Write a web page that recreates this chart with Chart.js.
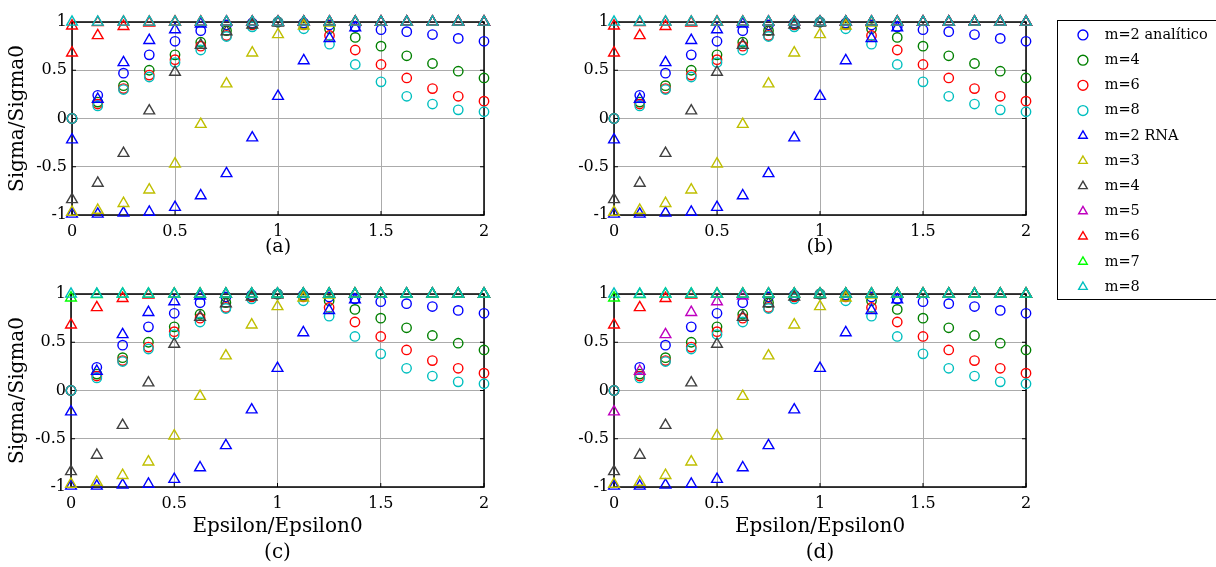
<!DOCTYPE html>
<html>
<head>
<meta charset="utf-8">
<script src="https://cdn.jsdelivr.net/npm/chart.js@4.4.1/dist/chart.umd.min.js"></script>
<style>
  html, body { margin: 0; padding: 0; background: #fff; overflow: hidden; width: 1216px; height: 567px; }
  canvas { position: absolute; }
  #legendBox { position: absolute; left: 1057px; top: 20px; width: 200px; height: 278px; border: 1px solid #000; }
</style>
</head>
<body>
<div id="legendBox"></div>
<canvas id="pa" width="500" height="262" style="left:0px;top:0px"></canvas>
<canvas id="pb" width="502" height="262" style="left:540px;top:0px"></canvas>
<canvas id="pc" width="500" height="294" style="left:0px;top:272px"></canvas>
<canvas id="pd" width="502" height="294" style="left:540px;top:272px"></canvas>
<canvas id="legend" width="320" height="290" style="left:1065px;top:17px"></canvas>
<script>
Chart.defaults.font.family = "'DejaVu Serif', serif";
Chart.defaults.color = "#000";

// Epsilon/Epsilon0 sample points
const eps = [0, 0.125, 0.25, 0.375, 0.5, 0.625, 0.75, 0.875, 1, 1.125, 1.25, 1.375, 1.5, 1.625, 1.75, 1.875, 2];

// analytic curves (circles)
const anaM2 = [0, 0.24, 0.47, 0.66, 0.80, 0.91, 0.97, 0.99, 1.0, 0.99, 0.97, 0.95, 0.92, 0.90, 0.87, 0.83, 0.80];
const anaM4 = [0, 0.17, 0.34, 0.50, 0.66, 0.79, 0.91, 0.98, 1.0, 0.98, 0.93, 0.84, 0.75, 0.65, 0.57, 0.49, 0.42];
const anaM6 = [0, 0.15, 0.31, 0.45, 0.61, 0.75, 0.86, 0.97, 1.0, 0.97, 0.86, 0.71, 0.56, 0.42, 0.31, 0.23, 0.18];
const anaM8 = [0, 0.13, 0.30, 0.43, 0.58, 0.71, 0.85, 0.95, 1.0, 0.93, 0.77, 0.56, 0.38, 0.23, 0.15, 0.09, 0.07];

// RNA results (triangles)
const rnaM2 = [-0.99, -0.99, -0.98, -0.97, -0.92, -0.80, -0.57, -0.20, 0.23, 0.60, 0.83, 0.94, 1, 1, 1, 1, 1];
const rnaM3 = [-0.97, -0.95, -0.88, -0.74, -0.47, -0.06, 0.36, 0.68, 0.87, 0.96, 0.99, 1, 1, 1, 1, 1, 1];
const rnaM4 = [-0.84, -0.67, -0.36, 0.08, 0.48, 0.76, 0.90, 0.97, 0.99, 1, 1, 1, 1, 1, 1, 1, 1];
const rnaM5 = [-0.22, 0.20, 0.58, 0.81, 0.92, 0.98, 1, 1, 1, 1, 1, 1, 1, 1, 1, 1, 1];
const rnaM6 = [0.68, 0.86, 0.955, 0.99, 1, 1, 1, 1, 1, 1, 1, 1, 1, 1, 1, 1, 1];
const rnaM7 = [0.96, 0.995, 1, 1, 1, 1, 1, 1, 1, 1, 1, 1, 1, 1, 1, 1, 1];
const rnaM8 = [1, 1, 1, 1, 1, 1, 1, 1, 1, 1, 1, 1, 1, 1, 1, 1, 1];

const BLUE = "#0000ff", GREEN = "#008000", RED = "#ff0000", CYAN = "#00bfbf";
const YELLOW = "#bfbf00", GRAY = "#404040", MAG = "#bf00bf", LIME = "#00ff00";

function series(label, data, color, shape, i) {
  return {
    label: label,
    data: data.map((y, k) => ({ x: eps[k], y: y })),
    pointStyle: shape,
    pointRadius: shape === "circle" ? 4.7 : 6.2,
    pointHoverRadius: shape === "circle" ? 4.7 : 6.2,
    borderColor: color,
    backgroundColor: "rgba(0,0,0,0)",
    borderWidth: 1.4,
    showLine: false,
    clip: false,
    order: -i,
  };
}

function allSeries(m5color, m7color) {
  return [
    series("m=2 analítico", anaM2, BLUE, "circle", 0),
    series("m=4", anaM4, GREEN, "circle", 1),
    series("m=6", anaM6, RED, "circle", 2),
    series("m=8", anaM8, CYAN, "circle", 3),
    series("m=2 RNA", rnaM2, BLUE, "triangle", 4),
    series("m=3", rnaM3, YELLOW, "triangle", 5),
    series("m=4", rnaM4, GRAY, "triangle", 6),
    series("m=5", rnaM5, m5color, "triangle", 7),
    series("m=6", rnaM6, RED, "triangle", 8),
    series("m=7", rnaM7, m7color, "triangle", 9),
    series("m=8", rnaM8, CYAN, "triangle", 10),
  ];
}

// black box round the plot area with small inward ticks
const boxPlugin = {
  id: "box",
  beforeDatasetsDraw(chart) {
    const { ctx, chartArea: a, scales } = chart;
    ctx.save();
    ctx.strokeStyle = "#000";
    ctx.lineWidth = 1.5;
    ctx.strokeRect(a.left, a.top, a.right - a.left, a.bottom - a.top);
    ctx.lineWidth = 1;
    ctx.beginPath();
    scales.x.ticks.forEach(t => {
      const px = scales.x.getPixelForValue(t.value);
      ctx.moveTo(px, a.bottom); ctx.lineTo(px, a.bottom - 4);
      ctx.moveTo(px, a.top); ctx.lineTo(px, a.top + 4);
    });
    scales.y.ticks.forEach(t => {
      const py = scales.y.getPixelForValue(t.value);
      ctx.moveTo(a.left, py); ctx.lineTo(a.left + 4, py);
      ctx.moveTo(a.right, py); ctx.lineTo(a.right - 4, py);
    });
    ctx.stroke();
    ctx.restore();
  }
};

const panels = [
  { id: "pa", tag: "(a)", yTitle: true, bottom: false, axisW: 72, axisH: 47, m5: BLUE, m7: RED },
  { id: "pb", tag: "(b)", yTitle: false, bottom: false, axisW: 74, axisH: 47, m5: BLUE, m7: RED },
  { id: "pc", tag: "(c)", yTitle: true, bottom: true, axisW: 71, axisH: 79, m5: BLUE, m7: LIME },
  { id: "pd", tag: "(d)", yTitle: false, bottom: true, axisW: 74, axisH: 79, m5: MAG, m7: LIME },
];

const gridOpts = { color: "#ababab", lineWidth: 1, drawTicks: false };
const fmt = v => String(+v.toFixed(2));

panels.forEach(p => {
  new Chart(document.getElementById(p.id), {
    type: "scatter",
    data: { datasets: allSeries(p.m5, p.m7) },
    options: {
      responsive: false,
      animation: false,
      events: [],
      layout: { padding: { top: 22, right: 16, left: 0, bottom: 0 } },
      scales: {
        x: {
          type: "linear",
          min: 0,
          max: 2,
          ticks: { stepSize: 0.5, font: { size: 16 }, padding: 7, maxRotation: 0, callback: fmt },
          grid: gridOpts,
          border: { display: false },
          title: {
            display: true,
            text: p.bottom ? ["Epsilon/Epsilon0", p.tag] : p.tag,
            font: { size: p.bottom ? 20 : 19, lineHeight: p.bottom ? 1.3 : 1.2 },
            padding: { top: 0, bottom: p.bottom ? 0 : 4 },
          },
          afterFit: s => { s.height = p.axisH; },
        },
        y: {
          min: -1,
          max: 1,
          ticks: { stepSize: 0.5, font: { size: 16 }, padding: 5, callback: fmt },
          grid: gridOpts,
          border: { display: false },
          title: {
            display: p.yTitle,
            text: "Sigma/Sigma0",
            font: { size: 20 },
            padding: { top: 6, bottom: 0 },
          },
          afterFit: s => { s.width = p.axisW; },
        },
      },
      plugins: {
        legend: { display: false },
        tooltip: { enabled: false },
      },
    },
    plugins: [boxPlugin],
  });
});

// shared legend
new Chart(document.getElementById("legend"), {
  type: "scatter",
  data: { datasets: allSeries(MAG, LIME).map(d => Object.assign(d, { data: [], order: 0 })) },
  options: {
    responsive: false,
    animation: false,
    events: [],
    layout: { padding: 0 },
    scales: { x: { display: false }, y: { display: false } },
    plugins: {
      tooltip: { enabled: false },
      legend: {
        position: "left",
        align: "start",
        labels: {
          usePointStyle: true,
          boxHeight: 7,
          padding: 10.7,
          color: "#000",
          font: { size: 14.5 },
          generateLabels: chart =>
            Chart.defaults.plugins.legend.labels.generateLabels(chart).map(l => Object.assign(l, { text: "\u2002" + l.text })),
        },
      },
    },
  },
});
</script>
</body>
</html>
